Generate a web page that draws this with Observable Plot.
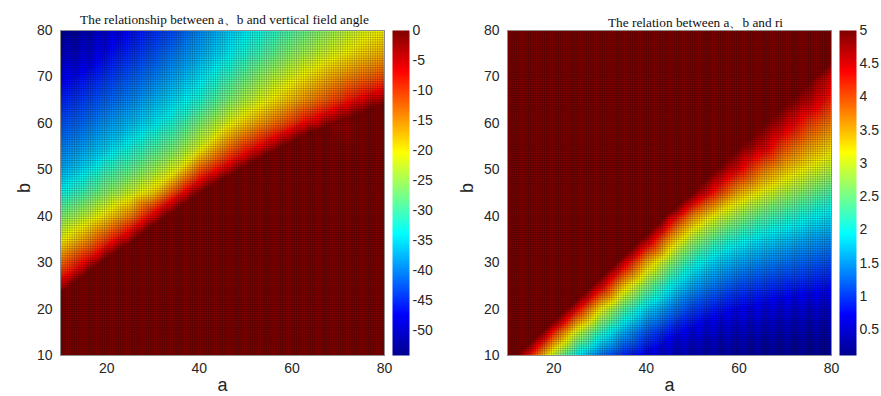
<!DOCTYPE html>
<html><head><meta charset="utf-8">
<script src="https://cdn.jsdelivr.net/npm/d3@7"></script>
<script src="https://cdn.jsdelivr.net/npm/@observablehq/plot@0.6"></script>
<style>
html,body{margin:0;padding:0;background:#fff;}
#root{position:relative;width:881px;height:396px;overflow:hidden;background:#fff;}
#root > div{position:absolute;top:0;}
</style></head><body><div id="root"></div>
<script>
// grid coordinates
const aValues = [10, 15, 20, 25, 30, 35, 40, 45, 50, 55, 60, 65, 70, 75, 80];
const bValues = [80, 75, 70, 65, 60, 55, 50, 45, 40, 35, 30, 25, 20, 15, 10];

// vertical field angle, rows follow bValues, columns follow aValues
const angleGrid = [
  [-54, -52, -49.5, -47, -45, -43, -40, -37, -34.5, -32, -29.5, -27, -24.5, -22, -20],
  [-51, -49.5, -47, -45, -43, -40.5, -38, -35, -32, -29, -26, -23.5, -21, -18.5, -16.5],
  [-48, -46.5, -44.5, -42.5, -40.5, -38, -35, -31.5, -28, -24.5, -21.5, -18.5, -15.5, -13, -11],
  [-45.5, -44, -42, -40, -37.5, -35, -32, -28, -24, -20.5, -17, -13.5, -10, -6, -2],
  [-43, -41.5, -39, -37, -34.5, -31.5, -27, -22.5, -18, -14, -10, -5.5, -1.5, 0, 0],
  [-40.5, -38.5, -36, -33, -30, -27, -22, -15, -9.5, -4.5, 0, 0, 0, 0, 0],
  [-38, -35, -31, -28.5, -25, -21, -12, -6, 0, 0, 0, 0, 0, 0, 0],
  [-33, -30, -26, -22.5, -18.5, -10, -1, 0, 0, 0, 0, 0, 0, 0, 0],
  [-27, -23.5, -19, -14, -6, 0, 0, 0, 0, 0, 0, 0, 0, 0, 0],
  [-21, -16, -10, -3, 0, 0, 0, 0, 0, 0, 0, 0, 0, 0, 0],
  [-13, -7, 0, 0, 0, 0, 0, 0, 0, 0, 0, 0, 0, 0, 0],
  [-5, 0, 0, 0, 0, 0, 0, 0, 0, 0, 0, 0, 0, 0, 0],
  [0, 0, 0, 0, 0, 0, 0, 0, 0, 0, 0, 0, 0, 0, 0],
  [0, 0, 0, 0, 0, 0, 0, 0, 0, 0, 0, 0, 0, 0, 0],
  [0, 0, 0, 0, 0, 0, 0, 0, 0, 0, 0, 0, 0, 0, 0]
];
// where the angle reaches 0 (edge of the dark-red region), read along a
const angleEdgeA = [10, 12.5, 15, 17.5, 20, 22.5, 25, 27.5, 30, 32.5, 35, 37.5, 40, 42.5, 45, 47.5, 50, 52.5, 55, 57.5, 60, 62.5, 65, 67.5, 70, 72.5, 75, 77.5, 80];
const angleEdgeB = [23.5, 25.4, 27.2, 29.2, 31, 32.6, 34.2, 36.2, 38, 39.8, 41.4, 43.2, 45, 46.5, 48, 49.4, 50.8, 52.2, 53.5, 54.8, 56, 57.3, 58.5, 59.3, 60.1, 61.2, 62.4, 63.4, 64.3];
// where the angle is about -8 (outer side of the bright red band)
const angleRedA = [10, 12.5, 15, 17.5, 20, 22.5, 25, 27.5, 30, 32.5, 35, 37.5, 40, 42.5, 45, 47.5, 50, 52.5, 55, 57.5, 60, 62.5, 65, 67.5, 70, 72.5, 75, 77.5, 80];
const angleRedB = [26.8, 28.4, 30, 32, 34, 35.6, 37.2, 39.1, 41, 42.7, 44.4, 46.2, 48, 49.5, 51, 52.5, 54, 55.4, 56.8, 58, 59.2, 60.5, 61.7, 62.8, 63.9, 65, 66.2, 67.1, 68];
const angleRedValue = -8;

// ri, rows follow bValues, columns follow aValues (5 = top of colour range)
const riGrid = [
  [5, 5, 5, 5, 5, 5, 5, 5, 5, 5, 5, 5, 5, 5, 5],
  [5, 5, 5, 5, 5, 5, 5, 5, 5, 5, 5, 5, 5, 5, 5],
  [5, 5, 5, 5, 5, 5, 5, 5, 5, 5, 5, 5, 5, 5, 4.5],
  [5, 5, 5, 5, 5, 5, 5, 5, 5, 5, 5, 5, 5, 4.7, 4.2],
  [5, 5, 5, 5, 5, 5, 5, 5, 5, 5, 5, 5, 4.6, 4.1, 3.75],
  [5, 5, 5, 5, 5, 5, 5, 5, 5, 5, 5, 4.6, 4.0, 3.6, 3.3],
  [5, 5, 5, 5, 5, 5, 5, 5, 5, 5, 4.4, 3.8, 3.4, 3.1, 2.85],
  [5, 5, 5, 5, 5, 5, 5, 5, 5, 4.2, 3.5, 3.1, 2.8, 2.55, 2.3],
  [5, 5, 5, 5, 5, 5, 5, 4.7, 3.7, 3.1, 2.7, 2.4, 2.2, 2.0, 1.85],
  [5, 5, 5, 5, 5, 5, 4.75, 3.6, 2.8, 2.35, 2.05, 1.85, 1.7, 1.55, 1.45],
  [5, 5, 5, 5, 5, 4.6, 3.5, 2.7, 2.1, 1.75, 1.55, 1.4, 1.3, 1.2, 1.1],
  [5, 5, 5, 5, 4.6, 3.4, 2.6, 2.0, 1.55, 1.3, 1.1, 1.0, 0.9, 0.85, 0.78],
  [5, 5, 5, 4.4, 3.2, 2.4, 1.8, 1.4, 1.05, 0.85, 0.72, 0.65, 0.58, 0.53, 0.48],
  [5, 5, 4.2, 3.0, 2.2, 1.6, 1.15, 0.85, 0.65, 0.52, 0.45, 0.4, 0.36, 0.32, 0.3],
  [5, 4.2, 2.85, 1.9, 1.3, 0.9, 0.65, 0.45, 0.35, 0.3, 0.25, 0.22, 0.2, 0.18, 0.15]
];
// where ri reaches 5 (edge of the dark-red region), read along a
const riEdgeA = [12, 15, 17.5, 20, 22.5, 25, 27.5, 30, 32.5, 35, 37.5, 40, 42.5, 45, 47.5, 50, 52.5, 55, 57.5, 60, 62.5, 65, 67.5, 70, 72.5, 75, 77.5, 80];
const riEdgeB = [10, 12.8, 15.1, 17.4, 19.7, 22, 24.4, 26.7, 29, 31.4, 33.7, 36, 38.4, 40.7, 43, 45.3, 47.6, 50, 52.3, 54.6, 57, 59.3, 61.6, 63.9, 66.3, 68.6, 70.9, 73.2];

const xTicks = [20, 40, 60, 80];
const yTicks = [10, 20, 30, 40, 50, 60, 70, 80];
const angleBarTicks = [0, -5, -10, -15, -20, -25, -30, -35, -40, -45, -50];
const riBarTicks = [0.5, 1, 1.5, 2, 2.5, 3, 3.5, 4, 4.5, 5];
const angleRange = [-54.2, 0];
const riRange = [0.11, 5];
const titles = ["The relationship between a、b and vertical field angle", "The relation between a、b and ri"];
const axisLabels = ["a", "b"];
const jetColors = ["#00008f", "#0000ff", "#0080ff", "#00ffff", "#80ff80", "#ffff00", "#ff8000", "#ff0000", "#800000"];

const sansFont = "'Liberation Sans', Arial, sans-serif";
const serifFont = "'Liberation Serif', 'Times New Roman', serif";

function toRows(grid, lines) {
  const rows = [];
  bValues.forEach((b, i) => aValues.forEach((a, j) => rows.push({a, b, v: grid[i][j]})));
  for (const line of lines) line.a.forEach((a, k) => rows.push({a, b: line.b[k], v: line.v}));
  return rows;
}

function jetScale(range) {
  const [lo, hi] = range;
  return {type: "linear", domain: jetColors.map((_, i) => lo + (hi - lo) * i / (jetColors.length - 1)), range: jetColors, interpolate: "rgb", clamp: true};
}

const meshLines = d3.range(10, 80.0001, 0.5);

function heat(rows, range, title, opts) {
  return Plot.plot({
    width: opts.width, height: 396,
    marginLeft: opts.marginLeft, marginRight: opts.marginRight, marginTop: 30, marginBottom: 41,
    style: {background: "transparent", fontFamily: sansFont, fontSize: "14px", color: "#262626", overflow: "visible"},
    x: {domain: [10, 80], axis: null},
    y: {domain: [10, 80], axis: null},
    color: jetScale(range),
    marks: [
      Plot.raster(rows, {x: "a", y: "b", fill: "v", width: 324, height: 325, interpolate: "barycentric", imageRendering: "auto"}),
      Plot.gridX({ticks: meshLines, stroke: "#000", strokeOpacity: 0.26, strokeWidth: 0.8}),
      Plot.gridY({ticks: meshLines, stroke: "#000", strokeOpacity: 0.26, strokeWidth: 0.8}),
      Plot.frame({stroke: "#8c8c8c", strokeWidth: 1}),
      Plot.axisX({ticks: xTicks, tickSize: 0, tickPadding: 8, label: null, fontSize: 14, tickFormat: d => String(d)}),
      Plot.axisY({ticks: yTicks, tickSize: 0, tickPadding: 8, label: null, fontSize: 14, tickFormat: d => String(d)}),
      Plot.text([axisLabels[0]], {text: d => d, frameAnchor: "bottom", lineAnchor: "middle", dy: 30, fontSize: 18, fill: "#262626"}),
      Plot.text([axisLabels[1]], {text: d => d, frameAnchor: "left", lineAnchor: "middle", rotate: -90, dx: opts.bDx, fontSize: 18, fill: "#262626"}),
      Plot.text([title], {text: d => d, frameAnchor: "top", lineAnchor: "middle", dx: opts.titleDx, dy: opts.titleDy, fontFamily: serifFont, fontSize: 13.3, fill: "#111"})
    ]
  });
}

function bar(range, ticks, opts) {
  return Plot.plot({
    width: opts.width, height: 396,
    marginLeft: 12, marginRight: opts.marginRight, marginTop: 30, marginBottom: 41,
    style: {background: "transparent", fontFamily: sansFont, fontSize: "14px", color: "#262626", overflow: "visible"},
    x: {domain: [0, 1], axis: null},
    y: {domain: range, axis: null},
    color: jetScale(range),
    marks: [
      Plot.raster({fill: (x, y) => y, x1: 0, x2: 1, y1: range[0], y2: range[1], width: 1, height: 325, imageRendering: "auto"}),
      Plot.axisY({anchor: "right", ticks, tickSize: 0, tickPadding: 3, label: null, fontSize: 14, tickFormat: d => String(d)})
    ]
  });
}

const root = document.getElementById("root");
function place(node, left, width) {
  const div = document.createElement("div");
  div.style.left = left + "px";
  div.style.width = width + "px";
  div.appendChild(node);
  root.appendChild(div);
}

const angleRows = toRows(angleGrid, [{a: angleEdgeA, b: angleEdgeB, v: 0}, {a: angleRedA, b: angleRedB, v: angleRedValue}]);
const riRows = toRows(riGrid, [{a: riEdgeA, b: riEdgeB, v: 5}]);

place(heat(angleRows, angleRange, titles[0], {width: 392, marginLeft: 60, marginRight: 8, bDx: -36, titleDx: 2, titleDy: -11}), 0, 392);
place(bar(angleRange, angleBarTicks, {width: 60, marginRight: 31}), 380, 60);
place(heat(riRows, riRange, titles[1], {width: 399, marginLeft: 67, marginRight: 8, bDx: -40, titleDx: 26, titleDy: -8}), 440, 399);
place(bar(riRange, riBarTicks, {width: 54, marginRight: 25}), 827, 54);
</script></body></html>
